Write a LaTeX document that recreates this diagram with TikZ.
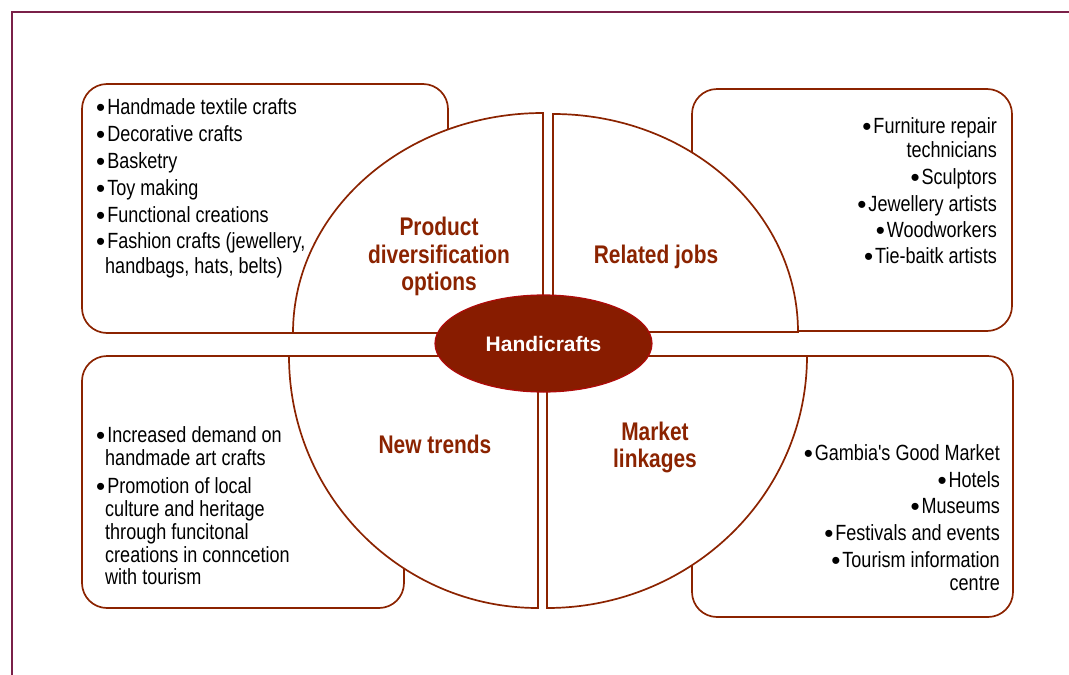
\documentclass[tikz,border=0pt]{standalone}
\usepackage{fontspec}
\setmainfont{Liberation Sans}
\newfontfamily\narrowfont{Liberation Sans}[FakeStretch=0.82]
\newfontfamily\plainfont{Liberation Sans}
\newcommand\bl{\raisebox{-2.6pt}{\plainfont\fontsize{26}{26}\selectfont •}\kern2pt}
\usetikzlibrary{shapes.geometric}
\definecolor{framecol}{RGB}{122,32,72}
\definecolor{maroon}{RGB}{139,35,0}
\definecolor{ellfill}{RGB}{136,28,0}
\definecolor{ellline}{RGB}{175,10,10}
\tikzset{
  boxshape/.style={draw=maroon, line width=1.7pt, rounded corners=25pt, fill=white},
  sector/.style={draw=maroon, line width=1.7pt, fill=white},
  item/.style={inner sep=0pt, text height=15pt, text depth=4pt, font=\narrowfont\fontsize{22}{26}\selectfont, text=black},
  lit/.style={item, anchor=base west},
  rit/.style={item, anchor=base east},
  ttl/.style={inner sep=0pt, font=\narrowfont\bfseries\fontsize{25.5}{28}\selectfont, text=maroon, anchor=base},
  hub/.style={ellipse, draw=ellline, line width=1.2pt, fill=ellfill, minimum width=217pt, minimum height=97pt, inner sep=0pt, text=white, font=\bfseries\fontsize{21}{24}\selectfont},
}
\begin{document}
\begin{tikzpicture}[x=1pt,y=1pt]
\useasboundingbox (0,0) rectangle (1069,-675);
% frame
\draw[framecol, line width=1.8pt] (12,-675) -- (12,-12) -- (1069,-12);
% rounded boxes
\draw[boxshape] (82,-84) rectangle (448,-333);
\draw[boxshape] (692,-89) rectangle (1012,-331);
\draw[boxshape] (82,-356) rectangle (404,-608);
\draw[boxshape] (692,-356) rectangle (1013,-617);
% sectors
\draw[sector] (293,-333) arc[start angle=180, end angle=90, x radius=250pt, y radius=220pt] -- (543,-333) -- cycle;
\draw[sector] (553,-114) arc[start angle=90, end angle=0, x radius=245pt, y radius=218pt] -- (553,-332) -- cycle;
\draw[sector] (289,-356) arc[start angle=180, end angle=270, x radius=249pt, y radius=252pt] -- (538,-356) -- cycle;
\draw[sector] (547,-608) arc[start angle=270, end angle=360, x radius=260pt, y radius=252pt] -- (547,-356) -- cycle;
% hub
\node[hub] (hub) at (543.5,-343.5) {Handicrafts};
% titles
\node[ttl] (t1a) at (439,-235) {Product};
\node[ttl] (t1b) at (439,-263) {diversification};
\node[ttl] (t1c) at (439,-290) {options};
\node[ttl] (t2) at (656,-263) {Related jobs};
\node[ttl] (t3) at (435,-453) {New trends};
\node[ttl] (t4a) at (655,-440) {Market};
\node[ttl] (t4b) at (655,-467) {linkages};
% top-left list
\node[lit] (a1) at (96,-114) {\bl Handmade textile crafts};
\node[lit] (a2) at (96,-141) {\bl Decorative crafts};
\node[lit] (a3) at (96,-168) {\bl Basketry};
\node[lit] (a4) at (96,-195) {\bl Toy making};
\node[lit] (a5) at (96,-222) {\bl Functional creations};
\node[lit] (a6) at (96,-248) {\bl Fashion crafts (jewellery,};
\node[lit] (a7) at (105,-273) {handbags, hats, belts)};
% top-right list
\node[rit] (b1) at (997,-133) {\bl Furniture repair};
\node[rit] (b2) at (997,-157) {technicians};
\node[rit] (b3) at (997,-184) {\bl Sculptors};
\node[rit] (b4) at (997,-211) {\bl Jewellery artists};
\node[rit] (b5) at (997,-237) {\bl Woodworkers};
\node[rit] (b6) at (997,-263) {\bl Tie-baitk artists};
% bottom-left list
\node[lit] (c1) at (96,-442) {\bl Increased demand on};
\node[lit] (c2) at (105,-465) {handmade art crafts};
\node[lit] (c3) at (96,-493) {\bl Promotion of local};
\node[lit] (c4) at (105,-516) {culture and heritage};
\node[lit] (c5) at (105,-539) {through funcitonal};
\node[lit] (c6) at (105,-562) {creations in conncetion};
\node[lit] (c7) at (105,-584) {with tourism};
% bottom-right list
\node[rit] (d1) at (1000,-460) {\bl Gambia's Good Market};
\node[rit] (d2) at (1000,-487) {\bl Hotels};
\node[rit] (d3) at (1000,-513) {\bl Museums};
\node[rit] (d4) at (1000,-540) {\bl Festivals and events};
\node[rit] (d5) at (1000,-567) {\bl Tourism information};
\node[rit] (d6) at (1000,-590) {centre};
\end{tikzpicture}
\end{document}
